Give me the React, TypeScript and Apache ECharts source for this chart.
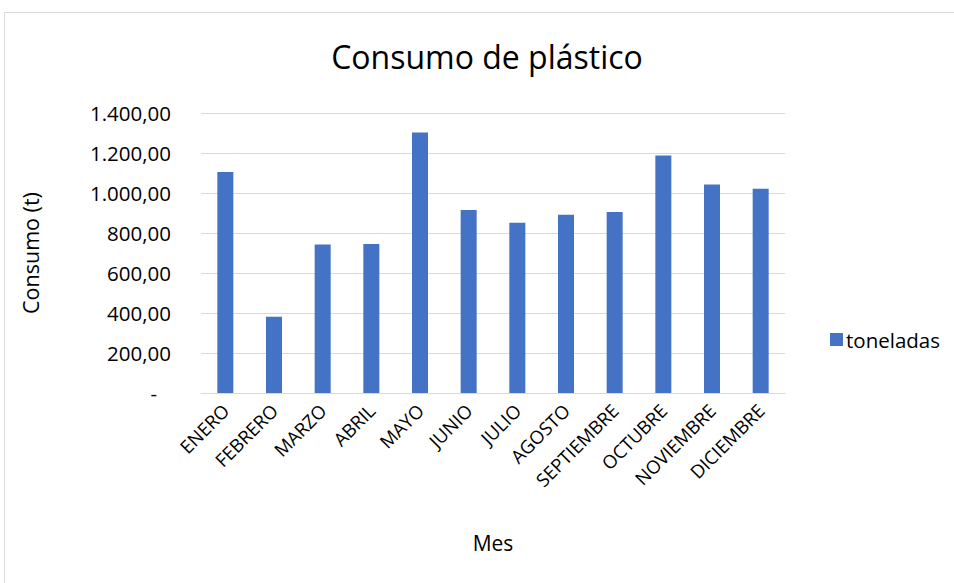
import React, { useEffect, useRef } from "react";
import * as echarts from "echarts";

const months = ["ENERO", "FEBRERO", "MARZO", "ABRIL", "MAYO", "JUNIO", "JULIO", "AGOSTO", "SEPTIEMBRE", "OCTUBRE", "NOVIEMBRE", "DICIEMBRE"];
const toneladas = [1105, 381, 742, 745, 1302, 915, 851, 891, 905, 1187, 1042, 1021];
const seriesName = "toneladas";
const titleText = "Consumo de plástico";
const yAxisName = "Consumo (t)";
const xAxisName = "Mes";

const FONT = "'Open Sans', 'Noto Sans', sans-serif";

function fmt(v: number): string {
  if (v === 0) return "{z|-}";
  const parts = v.toFixed(2).split(".");
  const intPart = parts[0].replace(/\B(?=(\d{3})+(?!\d))/g, ".");
  return intPart + "," + parts[1];
}

export default function App() {
  const ref = useRef<HTMLDivElement>(null);
  useEffect(() => {
    if (!ref.current) return;
    const chart = echarts.init(ref.current, null, { renderer: "svg" });
    chart.setOption({
      animation: false,
      backgroundColor: "#ffffff",
      textStyle: { fontFamily: FONT },
      title: {
        text: titleText,
        left: 482,
        top: 35,
        textAlign: "center",
        textStyle: { fontFamily: FONT, fontSize: 32, fontWeight: "normal", color: "#000" },
      },
      legend: {
        data: [seriesName],
        left: 825,
        top: 324,
        itemWidth: 13,
        itemHeight: 13,
        itemGap: 6,
        icon: "rect",
        textStyle: { fontFamily: FONT, fontSize: 20.5, color: "#000", padding: [0, 0, 0, -2] },
      },
      graphic: [
        {
          type: "rect",
          shape: { x: 4.5, y: 12.5, width: 960, height: 580 },
          style: { fill: "none", stroke: "#d9d9d9", lineWidth: 1 },
          silent: true,
        },
      ],
      grid: { left: 201, right: 169, top: 113, bottom: 190, containLabel: false },
      xAxis: {
        type: "category",
        data: months,
        name: xAxisName,
        nameLocation: "middle",
        nameGap: 139,
        nameTextStyle: { fontFamily: FONT, fontSize: 21, color: "#000" },
        axisLine: { lineStyle: { color: "#d9d9d9", width: 1 } },
        axisTick: { show: false },
        axisLabel: {
          rotate: 45,
          interval: 0,
          margin: 14,
          fontFamily: FONT,
          fontSize: 18.5,
          color: "#000",
        },
      },
      yAxis: {
        type: "value",
        min: 0,
        max: 1400,
        interval: 200,
        name: yAxisName,
        nameLocation: "middle",
        nameGap: 160,
        nameTextStyle: { fontFamily: FONT, fontSize: 21.5, color: "#000" },
        axisLine: { show: false },
        axisTick: { show: false },
        splitLine: { lineStyle: { color: "#d9d9d9", width: 1 } },
        axisLabel: {
          formatter: fmt,
          margin: 30,
          fontFamily: FONT,
          fontSize: 20.5,
          color: "#000",
          rich: { z: { fontFamily: FONT, fontSize: 20.5, color: "#000", padding: [0, 14, 0, 0] } },
        },
      },
      series: [
        {
          name: seriesName,
          type: "bar",
          data: toneladas,
          barWidth: 16,
          itemStyle: { color: "#4472C4" },
        },
      ],
    });
    return () => chart.dispose();
  }, []);
  return <div ref={ref} style={{ width: 954, height: 583, position: "absolute", left: 0, top: 0 }} />;
}
